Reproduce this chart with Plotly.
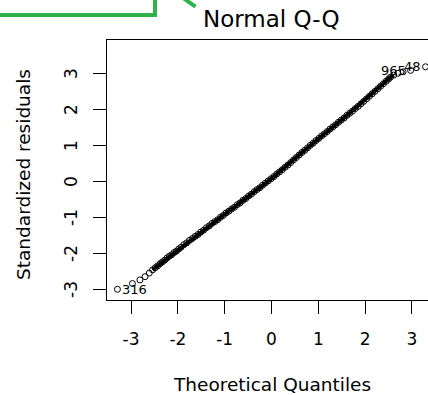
import plotly.graph_objects as go

# Theoretical quantiles (x) and standardized residuals (y)
theoretical = [
    -3.29, -2.97, -2.81, -2.70, -2.61, -2.54, -2.48, -2.43, -2.38, -2.33, -2.28, -2.23,
    -2.18, -2.13, -2.08, -2.03, -1.98, -1.93,
    -1.87, -1.81, -1.75, -1.69, -1.63, -1.57, -1.51, -1.45, -1.39, -1.33, -1.27, -1.21,
    -1.15, -1.09, -1.03, -0.97, -0.91, -0.85, -0.79, -0.73, -0.67, -0.61, -0.55, -0.49,
    -0.43, -0.37, -0.31, -0.25, -0.19, -0.13, -0.07, -0.01, 0.05, 0.11, 0.17, 0.23,
    0.29, 0.35, 0.41, 0.47, 0.53, 0.59, 0.65, 0.71, 0.77, 0.83, 0.89, 0.95,
    1.01, 1.07, 1.13, 1.19, 1.25, 1.31, 1.37, 1.43, 1.49, 1.55, 1.61, 1.67,
    1.73, 1.79, 1.85, 1.91, 1.97, 2.03, 2.09, 2.15, 2.21, 2.27, 2.33, 2.39,
    2.45, 2.50, 2.54, 2.61, 2.70, 2.81, 2.97, 3.29,
]
std_residuals = [
    -2.98, -2.82, -2.72, -2.63, -2.53, -2.44, -2.38, -2.33, -2.27, -2.22, -2.17, -2.11,
    -2.06, -2.02, -1.96, -1.92, -1.86, -1.81,
    -1.74, -1.69, -1.62, -1.57, -1.51, -1.46, -1.39, -1.34, -1.27, -1.22, -1.15, -1.10,
    -1.05, -0.98, -0.93, -0.86, -0.81, -0.75, -0.70, -0.63, -0.58, -0.51, -0.46, -0.39,
    -0.34, -0.27, -0.21, -0.16, -0.09, -0.03, 0.03, 0.09, 0.15, 0.22, 0.28, 0.34,
    0.41, 0.47, 0.54, 0.61, 0.68, 0.75, 0.82, 0.88, 0.95, 1.02, 1.08, 1.15,
    1.21, 1.28, 1.34, 1.40, 1.47, 1.53, 1.59, 1.66, 1.72, 1.78, 1.85, 1.91,
    1.97, 2.04, 2.10, 2.17, 2.24, 2.31, 2.38, 2.45, 2.52, 2.59, 2.66, 2.73,
    2.80, 2.86, 2.91, 2.97, 3.02, 3.06, 3.10, 3.20,
]

# range of the array indices where the points overlap into a solid band
dense_start, dense_end = 5, 94

# Labelled extreme observations: (index into arrays, label, side)
point_labels = [(0, "316", "right"), (96, "965", "left"), (97, "48", "left")]

tick_values = [-3, -2, -1, 0, 1, 2, 3]
tick_text = ["-3", "-2", "-1", "0", "1", "2", "3"]

FONT = "DejaVu Sans"

fig = go.Figure()
fig.add_trace(go.Scatter(
    x=theoretical[dense_start:dense_end], y=std_residuals[dense_start:dense_end], mode="lines",
    line=dict(color="black", width=4), hoverinfo="skip", showlegend=False,
))
fig.add_trace(go.Scatter(
    x=theoretical, y=std_residuals, mode="markers",
    marker=dict(symbol="circle-open", size=6, color="black", line=dict(width=1, color="black")),
    hoverinfo="skip", showlegend=False,
))

annotations = []
for idx, lab, side in point_labels:
    annotations.append(dict(
        x=theoretical[idx], y=std_residuals[idx], xref="x", yref="y", text=lab,
        showarrow=False, font=dict(family=FONT, size=13, color="black"),
        xanchor="left" if side == "right" else "right", yanchor="middle",
        xshift=4 if side == "right" else -4, borderpad=0,
    ))

# rotated y tick labels (R style, reading bottom to top)
for v, t in zip(tick_values, tick_text):
    annotations.append(dict(
        x=0, xref="paper", xshift=-36, y=v, yref="y", text=t, textangle=-90,
        xanchor="center", yanchor="middle", showarrow=False,
        font=dict(family=FONT, size=17, color="black"),
    ))

annotations += [
    dict(x=0, xref="x", y=1, yref="paper", yanchor="middle", yshift=21,
         text="Normal Q-Q", showarrow=False, font=dict(family=FONT, size=23, color="black")),
    dict(x=0, xref="x", y=0, yref="paper", yanchor="middle", yshift=-84,
         text="Theoretical Quantiles", showarrow=False, font=dict(family=FONT, size=18.5, color="black")),
    dict(x=0, xref="paper", xshift=-84, y=0.5, yref="paper", yshift=-5, textangle=-90,
         xanchor="center", yanchor="middle",
         text="Standardized residuals", showarrow=False, font=dict(family=FONT, size=18.5, color="black")),
]

green = "#2db34a"
shapes = [
    dict(type="line", xref="paper", yref="paper", x0=-0.34, x1=0.1558, y0=1.0962, y1=1.0962,
         line=dict(color=green, width=4)),
    dict(type="line", xref="paper", yref="paper", x0=0.1495, x1=0.1495, y0=1.0962, y1=1.16,
         line=dict(color=green, width=4)),
    dict(type="line", xref="paper", yref="paper", x0=0.2389, x1=0.2757, y0=1.16, y1=1.1282,
         line=dict(color=green, width=4)),
]

fig.update_layout(
    width=428, height=395,
    margin=dict(l=107, r=0, t=40, b=95, pad=0),
    plot_bgcolor="white", paper_bgcolor="white",
    font=dict(family=FONT, color="black"),
    annotations=annotations, shapes=shapes,
    xaxis=dict(range=[-3.513, 3.342], tickvals=tick_values, ticktext=tick_text,
               showgrid=False, zeroline=False, showline=True, linecolor="black", linewidth=1,
               mirror=True, ticks="outside", ticklen=13, tickcolor="black", tickwidth=1,
               ticklabelstandoff=11, automargin=False,
               tickfont=dict(family=FONT, size=17, color="black")),
    yaxis=dict(range=[-3.278, 3.944], tickvals=tick_values, showticklabels=False,
               showgrid=False, zeroline=False, showline=True, linecolor="black", linewidth=1,
               mirror=False, ticks="outside", ticklen=13, tickcolor="black", tickwidth=1,
               automargin=False),
)

fig.write_html("out.html", config={"displayModeBar": False},
               post_script="document.body.style.margin='0';document.body.style.padding='0';")
